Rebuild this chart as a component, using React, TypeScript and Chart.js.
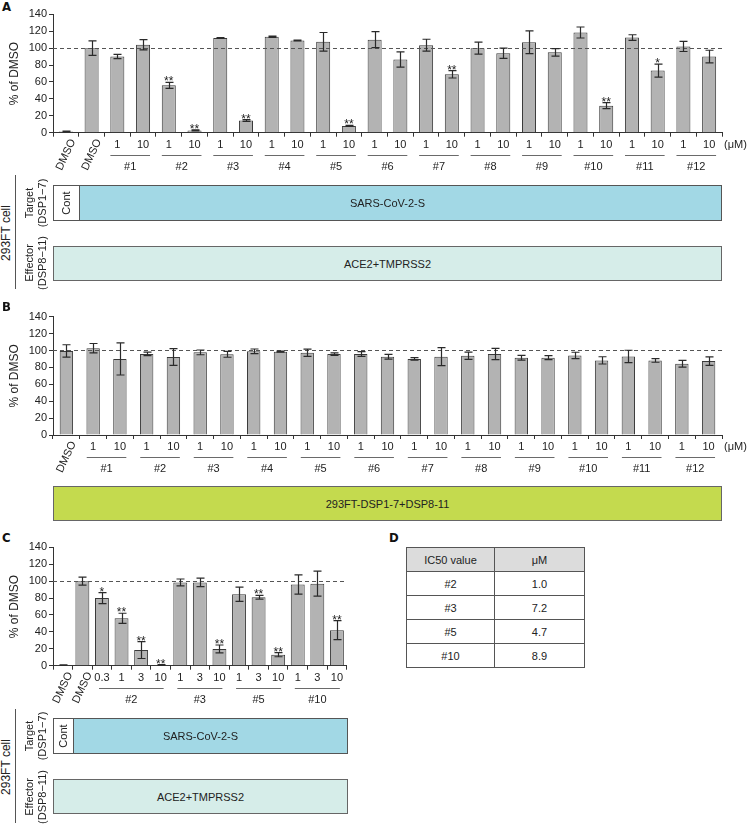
import React, { useEffect, useRef } from 'react';
import { Chart, registerables } from 'chart.js';
Chart.register(...registerables);

const FONT = '"Liberation Sans", Arial, Helvetica, sans-serif';
const TEXT = '#222';

// ---------- Panel A ----------
const A_LABELS = ['DMSO', 'DMSO', '1', '10', '1', '10', '1', '10', '1', '10', '1', '10', '1', '10', '1', '10', '1', '10', '1', '10', '1', '10', '1', '10', '1', '10'];
const A_VALUES = [1.5, 100, 90, 104, 56, 2.7, 112, 14.5, 113.5, 109, 107.5, 8, 110, 86.5, 103.5, 69, 100, 94, 107, 95, 118.5, 32, 112.5, 73.5, 102, 90];
const A_ERRORS = [0.5, 8.5, 2.5, 6, 3.5, 0.6, 0.5, 1, 0.8, 0.4, 11, 0.6, 9.5, 9, 7, 4.3, 7, 6, 13.5, 4.5, 6.5, 3.5, 3.3, 7.7, 6, 7.5];
const A_STARS = ['', '', '', '', '**', '**', '', '**', '', '', '', '**', '', '', '', '**', '', '', '', '', '', '**', '', '*', '', ''];
const A_GROUPS = ['#1', '#2', '#3', '#4', '#5', '#6', '#7', '#8', '#9', '#10', '#11', '#12'];
const A_SPANS = [2, 2, 2, 2, 2, 2, 2, 2, 2, 2, 2, 2];

// ---------- Panel B ----------
const B_LABELS = ['DMSO', '1', '10', '1', '10', '1', '10', '1', '10', '1', '10', '1', '10', '1', '10', '1', '10', '1', '10', '1', '10', '1', '10', '1', '10'];
const B_VALUES = [99.5, 102.8, 90, 96, 92.3, 97.8, 95.5, 99, 98.6, 97.4, 95.8, 95.8, 92.7, 90, 92.7, 93.8, 95.8, 91.5, 91.5, 94.2, 88.3, 93, 88.3, 84.4, 87.5];
const B_ERRORS = [7.3, 5.5, 19, 2, 10, 2.8, 3.5, 2.8, 0.6, 4.3, 1.5, 2.8, 2.8, 1.5, 10.6, 4.2, 6.7, 2.8, 2.4, 3.7, 4.3, 7.3, 2.2, 4, 5];
const B_STARS = ['', '', '', '', '', '', '', '', '', '', '', '', '', '', '', '', '', '', '', '', '', '', '', '', ''];
const B_GROUPS = ['#1', '#2', '#3', '#4', '#5', '#6', '#7', '#8', '#9', '#10', '#11', '#12'];
const B_SPANS = [2, 2, 2, 2, 2, 2, 2, 2, 2, 2, 2, 2];

// ---------- Panel C ----------
const C_LABELS = ['DMSO', 'DMSO', '0.3', '1', '3', '10', '1', '3', '10', '1', '3', '10', '1', '3', '10'];
const C_VALUES = [0.8, 100, 80, 56, 18.5, 0.8, 98.5, 98.5, 19.8, 84.5, 81, 13, 96, 97, 42];
const C_ERRORS = [0.3, 4.7, 6.5, 6, 10, 0.4, 4, 5, 4.7, 8.5, 2.2, 2.4, 11.4, 14.8, 11.2];
const C_STARS = ['', '', '*', '**', '**', '**', '', '', '**', '', '**', '**', '', '', '**'];
const C_GROUPS = ['#2', '#3', '#5', '#10'];
const C_SPANS = [4, 3, 3, 3];

// ---------- Panel D ----------
const D_HEADER = ['IC50 value', 'μM'];
const D_COMPOUNDS = ['#2', '#3', '#5', '#10'];
const D_IC50 = ['1.0', '7.2', '4.7', '8.9'];

type Rect = { left: number; top: number; width: number; height: number };
type Plot = { left: number; right: number; top: number; bottom: number };
type PanelProps = {
  box: Rect;
  plot: Plot;
  labels: string[];
  values: number[];
  errors: number[];
  stars: string[];
  groups: string[];
  spans: number[];
  unit?: string;
  barPct: number;
  lineExt: number;
};

function BarPanel(p: PanelProps) {
  const ref = useRef<HTMLCanvasElement | null>(null);
  useEffect(() => {
    const canvas = ref.current;
    if (!canvas) return;
    const padTop = p.plot.top - p.box.top;
    const padRight = p.box.left + p.box.width - p.plot.right;
    const yWidth = p.plot.left - p.box.left;
    const xHeight = p.box.top + p.box.height - p.plot.bottom;

    const decor = {
      id: 'decor',
      afterDatasetsDraw(chart: any) {
        const ctx = chart.ctx;
        const xs = chart.scales.x;
        const ys = chart.scales.y;
        const area = chart.chartArea;
        ctx.save();
        // reference line at 100 %
        const y100 = Math.round(ys.getPixelForValue(100)) + 0.5;
        ctx.setLineDash([4, 3]);
        ctx.strokeStyle = '#555';
        ctx.lineWidth = 1;
        ctx.beginPath();
        ctx.moveTo(area.left, y100);
        ctx.lineTo(area.right, y100);
        ctx.stroke();
        ctx.setLineDash([]);
        // error bars
        ctx.strokeStyle = '#2a2a2a';
        ctx.lineWidth = 1.2;
        p.values.forEach((v, i) => {
          const e = p.errors[i];
          const cx = Math.round(xs.getPixelForValue(i)) + 0.5;
          const yt = ys.getPixelForValue(v + e);
          const yb = ys.getPixelForValue(Math.max(0, v - e));
          ctx.beginPath();
          ctx.moveTo(cx, yt);
          ctx.lineTo(cx, yb);
          ctx.moveTo(cx - 4, yt);
          ctx.lineTo(cx + 4, yt);
          ctx.moveTo(cx - 4, yb);
          ctx.lineTo(cx + 4, yb);
          ctx.stroke();
        });
        // significance
        ctx.fillStyle = TEXT;
        ctx.font = `12px ${FONT}`;
        ctx.textAlign = 'center';
        ctx.textBaseline = 'alphabetic';
        p.stars.forEach((s, i) => {
          if (!s) return;
          const cx = xs.getPixelForValue(i);
          const yt = ys.getPixelForValue(p.values[i] + p.errors[i]);
          ctx.fillText(s, cx, yt + 3);
        });
        ctx.restore();
      },
      afterDraw(chart: any) {
        const ctx = chart.ctx;
        const xs = chart.scales.x;
        const area = chart.chartArea;
        const axisY = area.bottom;
        ctx.save();
        ctx.fillStyle = TEXT;
        ctx.font = `11px ${FONT}`;
        ctx.textBaseline = 'middle';
        p.labels.forEach((lab, i) => {
          const cx = xs.getPixelForValue(i);
          if (lab === 'DMSO') {
            ctx.save();
            ctx.translate(cx + 7, axisY + 7);
            ctx.rotate((-65 * Math.PI) / 180);
            ctx.textAlign = 'right';
            ctx.fillText(lab, 0, 0);
            ctx.restore();
          } else {
            ctx.textAlign = 'center';
            ctx.fillText(lab, cx, axisY + 12);
          }
        });
        let start = 0;
        while (start < p.labels.length && p.labels[start] === 'DMSO') start++;
        const catW = (area.right - area.left) / p.labels.length;
        const ext = catW * p.lineExt;
        ctx.strokeStyle = '#6a6a6a';
        ctx.lineWidth = 1.2;
        p.groups.forEach((g, k) => {
          const from = start;
          const to = start + p.spans[k] - 1;
          const x1 = xs.getPixelForValue(from) - ext;
          const x2 = xs.getPixelForValue(to) + ext;
          const ly = Math.round(axisY + 22) + 0.5;
          ctx.beginPath();
          ctx.moveTo(x1, ly);
          ctx.lineTo(x2, ly);
          ctx.stroke();
          ctx.textAlign = 'center';
          ctx.fillText(g, (x1 + x2) / 2, axisY + 34);
          start += p.spans[k];
        });
        if (p.unit) {
          ctx.textAlign = 'left';
          ctx.fillText(p.unit, area.right + 2, axisY + 12);
        }
        ctx.restore();
      },
    };

    const chart = new Chart(canvas, {
      type: 'bar',
      data: {
        labels: p.labels,
        datasets: [
          {
            data: p.values,
            backgroundColor: '#b3b3b3',
            borderColor: '#3a3a3a',
            borderWidth: 1,
            borderSkipped: 'bottom',
            barPercentage: p.barPct,
            categoryPercentage: 1,
          },
        ],
      },
      options: {
        animation: false,
        responsive: false,
        maintainAspectRatio: false,
        layout: { padding: { top: padTop, right: padRight, left: 0, bottom: 0 } },
        plugins: {
          legend: { display: false },
          tooltip: { enabled: false },
          title: { display: false },
        },
        scales: {
          x: {
            offset: true,
            grid: {
              display: true,
              offset: true,
              drawOnChartArea: false,
              drawTicks: true,
              tickLength: 4,
              color: '#333',
              lineWidth: 1,
            },
            border: { display: true, color: '#333', width: 1 },
            ticks: { display: false },
            afterFit: (s: any) => {
              s.height = xHeight;
            },
          },
          y: {
            min: 0,
            max: 140,
            ticks: { stepSize: 20, font: { size: 11, family: FONT }, color: TEXT, padding: 2 },
            grid: { drawOnChartArea: false, drawTicks: true, tickLength: 4, color: '#333' },
            border: { color: '#333', width: 1 },
            title: {
              display: true,
              text: '% of DMSO',
              font: { size: 12, family: FONT },
              color: TEXT,
              padding: { top: 7, bottom: 0 },
            },
            afterFit: (s: any) => {
              s.width = yWidth;
            },
          },
        },
      },
      plugins: [decor],
    } as any);
    return () => chart.destroy();
  }, []);
  return (
    <canvas
      ref={ref}
      width={p.box.width}
      height={p.box.height}
      style={{ position: 'absolute', left: p.box.left, top: p.box.top, width: p.box.width, height: p.box.height, display: 'block' }}
    />
  );
}

function Rot({ cx, cy, lines, size = 11 }: { cx: number; cy: number; lines: string[]; size?: number }) {
  return (
    <div
      style={{
        position: 'absolute',
        left: cx,
        top: cy,
        transform: 'translate(-50%, -50%) rotate(-90deg)',
        whiteSpace: 'nowrap',
        textAlign: 'center',
        fontSize: size,
        lineHeight: '13px',
        fontFamily: FONT,
        color: TEXT,
      }}
    >
      {lines.map((l, i) => (
        <div key={i}>{l}</div>
      ))}
    </div>
  );
}

function Letter({ x, y, t }: { x: number; y: number; t: string }) {
  return (
    <div
      style={{
        position: 'absolute',
        left: x,
        top: y,
        fontSize: 13,
        lineHeight: '13px',
        fontWeight: 'bold',
        fontFamily: '"Liberation Sans Narrow", "DejaVu Sans Condensed", ' + FONT,
        color: '#111',
      }}
    >
      {t}
    </div>
  );
}

function Box({ r, bg, text, contW, border = '#555' }: { r: Rect; bg: string; text: string; contW?: number; border?: string }) {
  return (
    <div
      style={{
        position: 'absolute',
        left: r.left,
        top: r.top,
        width: r.width,
        height: r.height,
        boxSizing: 'border-box',
        border: `1px solid ${border}`,
        background: bg,
        fontFamily: FONT,
        fontSize: 11,
        color: TEXT,
      }}
    >
      {contW ? (
        <div
          style={{
            position: 'absolute',
            left: 0,
            top: 0,
            bottom: 0,
            width: contW - 1,
            background: '#fff',
            borderRight: `1px solid ${border}`,
          }}
        >
          <Rot cx={(contW - 1) / 2} cy={(r.height - 2) / 2} lines={['Cont']} />
        </div>
      ) : null}
      <div
        style={{
          position: 'absolute',
          left: 0,
          right: 0,
          top: 0,
          bottom: 0,
          display: 'flex',
          alignItems: 'center',
          justifyContent: 'center',
        }}
      >
        {text}
      </div>
    </div>
  );
}

function CellLabels({ top, targetY, effectorY }: { top: number; targetY: number; effectorY: number }) {
  return (
    <>
      <Rot cx={6} cy={(targetY + effectorY) / 2} lines={['293FT cell']} size={12} />
      <div style={{ position: 'absolute', left: 15, top, width: 1, height: 114, background: '#555' }} />
      <Rot cx={35.5} cy={targetY} lines={['Target', '(DSP1−7)']} />
      <Rot cx={35.5} cy={effectorY} lines={['Effector', '(DSP8−11)']} />
    </>
  );
}

export default function App() {
  const aPlot = { left: 53, right: 722, top: 14.3, bottom: 132.7 };
  const bPlot = { left: 53, right: 722, top: 316.7, bottom: 435 };
  const cPlot = { left: 53, right: 346.7, top: 547.3, bottom: 665.7 };
  const aCat = (aPlot.right - aPlot.left) / A_LABELS.length;
  const cCat = (cPlot.right - cPlot.left) / C_LABELS.length;
  const td: React.CSSProperties = {
    border: '1px solid #555',
    height: 23,
    padding: 0,
    textAlign: 'center',
    verticalAlign: 'middle',
  };
  return (
    <div
      style={{
        position: 'absolute',
        left: 0,
        top: 0,
        width: 748,
        height: 825,
        background: '#fff',
        overflow: 'hidden',
        fontFamily: FONT,
        color: TEXT,
      }}
    >
      {/* Panel A */}
      <Letter x={2} y={0} t="A" />
      <BarPanel
        box={{ left: 0, top: 0, width: 748, height: 180 }}
        plot={aPlot}
        labels={A_LABELS}
        values={A_VALUES}
        errors={A_ERRORS}
        stars={A_STARS}
        groups={A_GROUPS}
        spans={A_SPANS}
        unit="(μM)"
        barPct={0.545}
        lineExt={0.27}
      />
      <CellLabels top={175} targetY={203} effectorY={263} />
      <Box r={{ left: 53, top: 185, width: 669, height: 36 }} bg="#a2d8e5" text="SARS-CoV-2-S" contW={aCat} />
      <Box r={{ left: 53, top: 246, width: 669, height: 35 }} bg="#d6ede9" text="ACE2+TMPRSS2" border="#666" />

      {/* Panel B */}
      <Letter x={2} y={300} t="B" />
      <BarPanel
        box={{ left: 0, top: 300, width: 748, height: 180 }}
        plot={bPlot}
        labels={B_LABELS}
        values={B_VALUES}
        errors={B_ERRORS}
        stars={B_STARS}
        groups={B_GROUPS}
        spans={B_SPANS}
        unit="(μM)"
        barPct={0.5}
        lineExt={0.24}
      />
      <Box r={{ left: 53, top: 486, width: 669, height: 35 }} bg="#c4da4e" text="293FT-DSP1-7+DSP8-11" border="#666" />

      {/* Panel C */}
      <Letter x={2} y={531} t="C" />
      <BarPanel
        box={{ left: 0, top: 530, width: 380, height: 180 }}
        plot={cPlot}
        labels={C_LABELS}
        values={C_VALUES}
        errors={C_ERRORS}
        stars={C_STARS}
        groups={C_GROUPS}
        spans={C_SPANS}
        barPct={0.71}
        lineExt={0.15}
      />
      <CellLabels top={709} targetY={736} effectorY={797} />
      <Box r={{ left: 53, top: 718, width: 295, height: 36 }} bg="#a2d8e5" text="SARS-CoV-2-S" contW={cCat} />
      <Box r={{ left: 53, top: 779, width: 295, height: 35 }} bg="#d6ede9" text="ACE2+TMPRSS2" border="#666" />

      {/* Panel D */}
      <Letter x={389} y={531} t="D" />
      <table
        style={{
          position: 'absolute',
          left: 406,
          top: 547,
          borderCollapse: 'collapse',
          fontSize: 11,
          fontFamily: FONT,
          color: TEXT,
        }}
      >
        <tbody>
          <tr style={{ background: '#dcdcdc' }}>
            <td style={{ ...td, width: 87 }}>{D_HEADER[0]}</td>
            <td style={{ ...td, width: 89 }}>{D_HEADER[1]}</td>
          </tr>
          {D_COMPOUNDS.map((c, i) => (
            <tr key={c}>
              <td style={td}>{c}</td>
              <td style={td}>{D_IC50[i]}</td>
            </tr>
          ))}
        </tbody>
      </table>
    </div>
  );
}
